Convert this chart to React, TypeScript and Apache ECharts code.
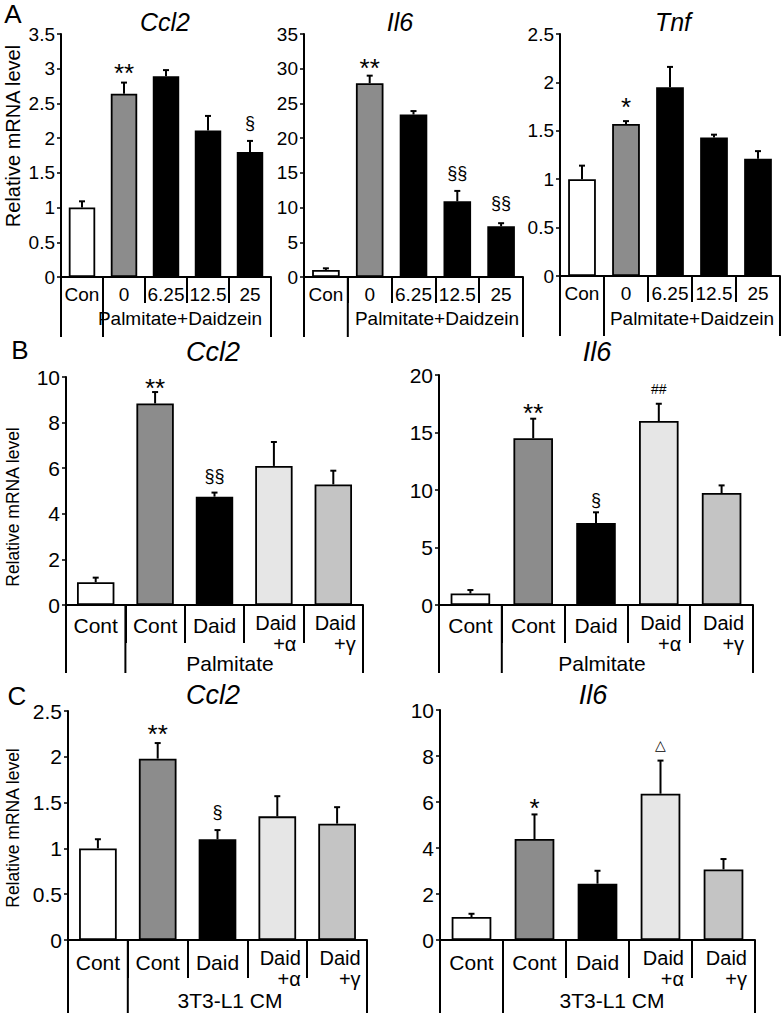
import React, { useEffect, useRef } from "react";
import * as echarts from "echarts";

const FONT = "Liberation Sans";

// ---- categories ----
const catsA = ["Con", "0", "6.25", "12.5", "25"];
const catsB = ["Cont", "Cont", "Daid", "Daid\n+α", "Daid\n+γ"];
const catsC = ["Cont", "Cont", "Daid", "Daid\n+α", "Daid\n+γ"];

const colorsA = ["#ffffff", "#8c8c8c", "#000000", "#000000", "#000000"];
const colorsBC = ["#ffffff", "#8c8c8c", "#000000", "#e6e6e6", "#c4c4c4"];

// ---- panel A ----
const aCcl2Values = [1.0, 2.64, 2.89, 2.11, 1.8];
const aCcl2Errors = [0.09, 0.16, 0.09, 0.21, 0.16];
const aCcl2Marks: [number, number, string][] = [[1, 3.02, "**"], [4, 2.22, "§"]];

const aIl6Values = [1.0, 27.9, 23.4, 10.9, 7.3];
const aIl6Errors = [0.25, 1.1, 0.5, 1.5, 0.45];
const aIl6Marks: [number, number, string][] = [[1, 31.0, "**"], [3, 15.0, "§§"], [4, 10.7, "§§"]];

const aTnfValues = [1.0, 1.57, 1.95, 1.43, 1.21];
const aTnfErrors = [0.14, 0.03, 0.21, 0.03, 0.08];
const aTnfMarks: [number, number, string][] = [[1, 1.81, "*"]];

// ---- panel B ----
const bCcl2Values = [1.0, 8.84, 4.75, 6.1, 5.29];
const bCcl2Errors = [0.2, 0.5, 0.18, 1.05, 0.6];
const bCcl2Marks: [number, number, string][] = [[1, 9.78, "**"], [2, 5.66, "§§"]];

const bIl6Values = [1.0, 14.5, 7.14, 16.0, 9.74];
const bIl6Errors = [0.3, 1.7, 0.92, 1.5, 0.66];
const bIl6Marks: [number, number, string][] = [[1, 17.2, "**"], [2, 9.1, "§"], [3, 18.8, "##"]];

// ---- panel C ----
const cCcl2Values = [1.0, 1.98, 1.1, 1.35, 1.27];
const cCcl2Errors = [0.1, 0.17, 0.1, 0.22, 0.18];
const cCcl2Marks: [number, number, string][] = [[1, 2.31, "**"], [2, 1.4, "§"]];

const cIl6Values = [1.0, 4.39, 2.45, 6.36, 3.07];
const cIl6Errors = [0.14, 1.07, 0.56, 1.44, 0.45];
const cIl6Marks: [number, number, string][] = [[1, 6.0, "*"], [3, 8.5, "△"]];

type Panel = {
  cats: string[];
  colors: string[];
  values: number[];
  errors: number[];
  marks: [number, number, string][];
  max: number;
  interval: number;
  grid: { left: number; top: number; width: number; height: number };
  title: string;
  titleX: number;
  titleY: number;
  titleFont: number;
  tickFont: number;
  catFont: number;
  catMargin: number;
  singleLH: number;
  rWidth: number;
  shortLen: number;
  longLen: number;
  group: string;
  groupX: number;
  groupY: number;
  groupFont: number;
};

const panels: Panel[] = [
  {
    cats: catsA, colors: colorsA, values: aCcl2Values, errors: aCcl2Errors, marks: aCcl2Marks,
    max: 3.5, interval: 0.5, grid: { left: 61, top: 34, width: 210, height: 243 },
    title: "Ccl2", titleX: 165, titleY: 22, titleFont: 25, tickFont: 19, catFont: 19, catMargin: 7,
    singleLH: 20, rWidth: 44, shortLen: 26, longLen: 60, group: "Palmitate+Daidzein", groupX: 180, groupY: 318, groupFont: 19,
  },
  {
    cats: catsA, colors: colorsA, values: aIl6Values, errors: aIl6Errors, marks: aIl6Marks,
    max: 35, interval: 5, grid: { left: 304, top: 34, width: 219, height: 243 },
    title: "Il6", titleX: 400, titleY: 22, titleFont: 25, tickFont: 19, catFont: 19, catMargin: 7,
    singleLH: 20, rWidth: 44, shortLen: 26, longLen: 60, group: "Palmitate+Daidzein", groupX: 437, groupY: 318, groupFont: 19,
  },
  {
    cats: catsA, colors: colorsA, values: aTnfValues, errors: aTnfErrors, marks: aTnfMarks,
    max: 2.5, interval: 0.5, grid: { left: 560, top: 34, width: 220, height: 242 },
    title: "Tnf", titleX: 673, titleY: 22, titleFont: 25, tickFont: 19, catFont: 19, catMargin: 7,
    singleLH: 20, rWidth: 44, shortLen: 26, longLen: 60, group: "Palmitate+Daidzein", groupX: 692, groupY: 318, groupFont: 19,
  },
  {
    cats: catsB, colors: colorsBC, values: bCcl2Values, errors: bCcl2Errors, marks: bCcl2Marks,
    max: 10, interval: 2, grid: { left: 66, top: 377, width: 297, height: 228 },
    title: "Ccl2", titleX: 213, titleY: 352, titleFont: 27, tickFont: 21, catFont: 21, catMargin: 7,
    singleLH: 26, rWidth: 45, shortLen: 38, longLen: 68, group: "Palmitate", groupX: 230, groupY: 663, groupFont: 21,
  },
  {
    cats: catsB, colors: colorsBC, values: bIl6Values, errors: bIl6Errors, marks: bIl6Marks,
    max: 20, interval: 5, grid: { left: 439, top: 375, width: 314, height: 230 },
    title: "Il6", titleX: 597, titleY: 352, titleFont: 27, tickFont: 21, catFont: 21, catMargin: 7,
    singleLH: 26, rWidth: 45, shortLen: 38, longLen: 68, group: "Palmitate", groupX: 602, groupY: 663, groupFont: 21,
  },
  {
    cats: catsC, colors: colorsBC, values: cCcl2Values, errors: cCcl2Errors, marks: cCcl2Marks,
    max: 2.5, interval: 0.5, grid: { left: 68, top: 711, width: 299, height: 229 },
    title: "Ccl2", titleX: 213, titleY: 695, titleFont: 27, tickFont: 21, catFont: 21, catMargin: 7,
    singleLH: 30, rWidth: 47, shortLen: 38, longLen: 75, group: "3T3-L1 CM", groupX: 230, groupY: 1000, groupFont: 21,
  },
  {
    cats: catsC, colors: colorsBC, values: cIl6Values, errors: cIl6Errors, marks: cIl6Marks,
    max: 10, interval: 2, grid: { left: 440, top: 710, width: 315, height: 230 },
    title: "Il6", titleX: 593, titleY: 695, titleFont: 27, tickFont: 21, catFont: 21, catMargin: 7,
    singleLH: 30, rWidth: 47, shortLen: 38, longLen: 75, group: "3T3-L1 CM", groupX: 612, groupY: 1000, groupFont: 21,
  },
];

const panelLetters: [string, number, number][] = [
  ["A", 13, 14],
  ["B", 20, 350],
  ["C", 17, 696],
];

const yNames: [number, number, number][] = [
  // x, y, fontSize
  [13, 136, 20],
  [13, 507, 17.5],
  [13, 828, 17.5],
];

function buildOption() {
  const grid = panels.map((p) => ({ ...p.grid }));
  const xAxis = panels.map((p, i) => ({
    type: "category",
    gridIndex: i,
    data: p.cats,
    axisLine: { show: true, lineStyle: { color: "#000", width: 2 } },
    axisTick: { show: true, length: p.shortLen, lineStyle: { color: "#000", width: 2 } },
    axisLabel: {
      interval: 0,
      margin: p.catMargin,
      color: "#000",
      fontFamily: FONT,
      fontSize: p.catFont,
      formatter: (v: string) =>
        v.indexOf("\n") >= 0
          ? v.split("\n").map((s) => `{r|${s}}`).join("\n")
          : `{s|${v}}`,
      rich: {
        r: { width: p.rWidth, align: "right", fontSize: p.catFont - 1, fontFamily: FONT, lineHeight: 21, color: "#000" },
        s: { fontSize: p.catFont, fontFamily: FONT, lineHeight: p.singleLH, color: "#000" },
      },
    },
    splitLine: { show: false },
  }));
  const yAxis = panels.map((p, i) => ({
    type: "value",
    gridIndex: i,
    min: 0,
    max: p.max,
    interval: p.interval,
    axisLine: { show: true, lineStyle: { color: "#000", width: 2 } },
    axisTick: { show: true, length: 4, lineStyle: { color: "#000", width: 1.5 } },
    splitLine: { show: false },
    axisLabel: { color: "#000", fontFamily: FONT, fontSize: p.tickFont, margin: 6 },
  }));

  const series: any[] = [];
  panels.forEach((p, i) => {
    series.push({
      type: "bar",
      xAxisIndex: i,
      yAxisIndex: i,
      barWidth: "63%",
      data: p.values.map((v, k) => ({ value: v, itemStyle: { color: p.colors[k] } })),
      itemStyle: { borderColor: "#000", borderWidth: 1.8 },
      z: 2,
    });
    series.push({
      type: "custom",
      xAxisIndex: i,
      yAxisIndex: i,
      clip: false,
      z: 3,
      data: p.values.map((v, k) => [k, v, p.errors[k]]),
      encode: { x: 0, y: 1 },
      renderItem: (_params: any, api: any) => {
        const x = api.value(0);
        const v = api.value(1);
        const e = api.value(2);
        const p0 = api.coord([x, v]);
        const p1 = api.coord([x, v + e]);
        return {
          type: "group",
          children: [
            { type: "line", shape: { x1: p0[0], y1: p0[1], x2: p1[0], y2: p1[1] }, style: { stroke: "#000", lineWidth: 2 } },
            { type: "line", shape: { x1: p1[0] - 3, y1: p1[1], x2: p1[0] + 3, y2: p1[1] }, style: { stroke: "#000", lineWidth: 2 } },
          ],
        };
      },
    });
    series.push({
      type: "custom",
      xAxisIndex: i,
      yAxisIndex: i,
      clip: false,
      z: 4,
      data: p.marks.map((m) => [m[0], m[1]]),
      encode: { x: 0, y: 1 },
      renderItem: (params: any, api: any) => {
        const m = p.marks[params.dataIndex];
        const pt = api.coord([api.value(0), api.value(1)]);
        const txt = m[2];
        let size = 18;
        let dy = 0;
        if (txt.indexOf("*") >= 0) { size = 26; dy = 6; }
        else if (txt === "##") size = 14;
        else if (txt === "△") size = 14;
        return {
          type: "text",
          x: pt[0],
          y: pt[1] + dy,
          style: { text: txt, fontSize: size, fontFamily: FONT, fill: "#000", align: "center", verticalAlign: "middle" },
        };
      },
    });
    // long separators (outer bracket lines)
    series.push({
      type: "custom",
      xAxisIndex: i,
      yAxisIndex: i,
      clip: false,
      z: 4,
      data: [[0, 0, 0], [1, 0, 0], [p.cats.length - 1, 0, 1]],
      encode: { x: 0, y: 1 },
      renderItem: (_params: any, api: any) => {
        const k = api.value(0);
        const side = api.value(2);
        const band = api.size([1, 0])[0];
        const c = api.coord([k, 0]);
        const x = side ? c[0] + band / 2 : c[0] - band / 2;
        return {
          type: "line",
          shape: { x1: x, y1: c[1], x2: x, y2: c[1] + p.longLen },
          style: { stroke: "#000", lineWidth: 2 },
        };
      },
    });
  });

  const graphic: any[] = [];
  panels.forEach((p) => {
    graphic.push({
      type: "text", x: p.titleX, y: p.titleY,
      style: { text: p.title, fontSize: p.titleFont, fontStyle: "italic", fontFamily: FONT, fill: "#000", align: "center", verticalAlign: "middle" },
    });
    graphic.push({
      type: "text", x: p.groupX, y: p.groupY,
      style: { text: p.group, fontSize: p.groupFont, fontFamily: FONT, fill: "#000", align: "center", verticalAlign: "middle" },
    });
  });
  panelLetters.forEach(([t, x, y]) => {
    graphic.push({
      type: "text", x, y,
      style: { text: t, fontSize: 26, fontFamily: FONT, fill: "#000", align: "center", verticalAlign: "middle" },
    });
  });
  yNames.forEach(([x, y, fs]) => {
    graphic.push({
      type: "text", x, y, rotation: Math.PI / 2,
      style: { text: "Relative mRNA level", fontSize: fs, fontFamily: FONT, fill: "#000", align: "center", verticalAlign: "middle" },
    });
  });

  return {
    animation: false,
    backgroundColor: "#ffffff",
    textStyle: { fontFamily: FONT },
    grid,
    xAxis,
    yAxis,
    series,
    graphic,
  };
}

export default function App() {
  const ref = useRef<HTMLDivElement>(null);
  useEffect(() => {
    if (!ref.current) return;
    const chart = echarts.init(ref.current, undefined, { renderer: "svg" });
    chart.setOption(buildOption() as any);
    return () => chart.dispose();
  }, []);
  return (
    <div
      ref={ref}
      style={{ position: "absolute", left: 0, top: 0, width: 783, height: 1013, background: "#fff" }}
    />
  );
}
